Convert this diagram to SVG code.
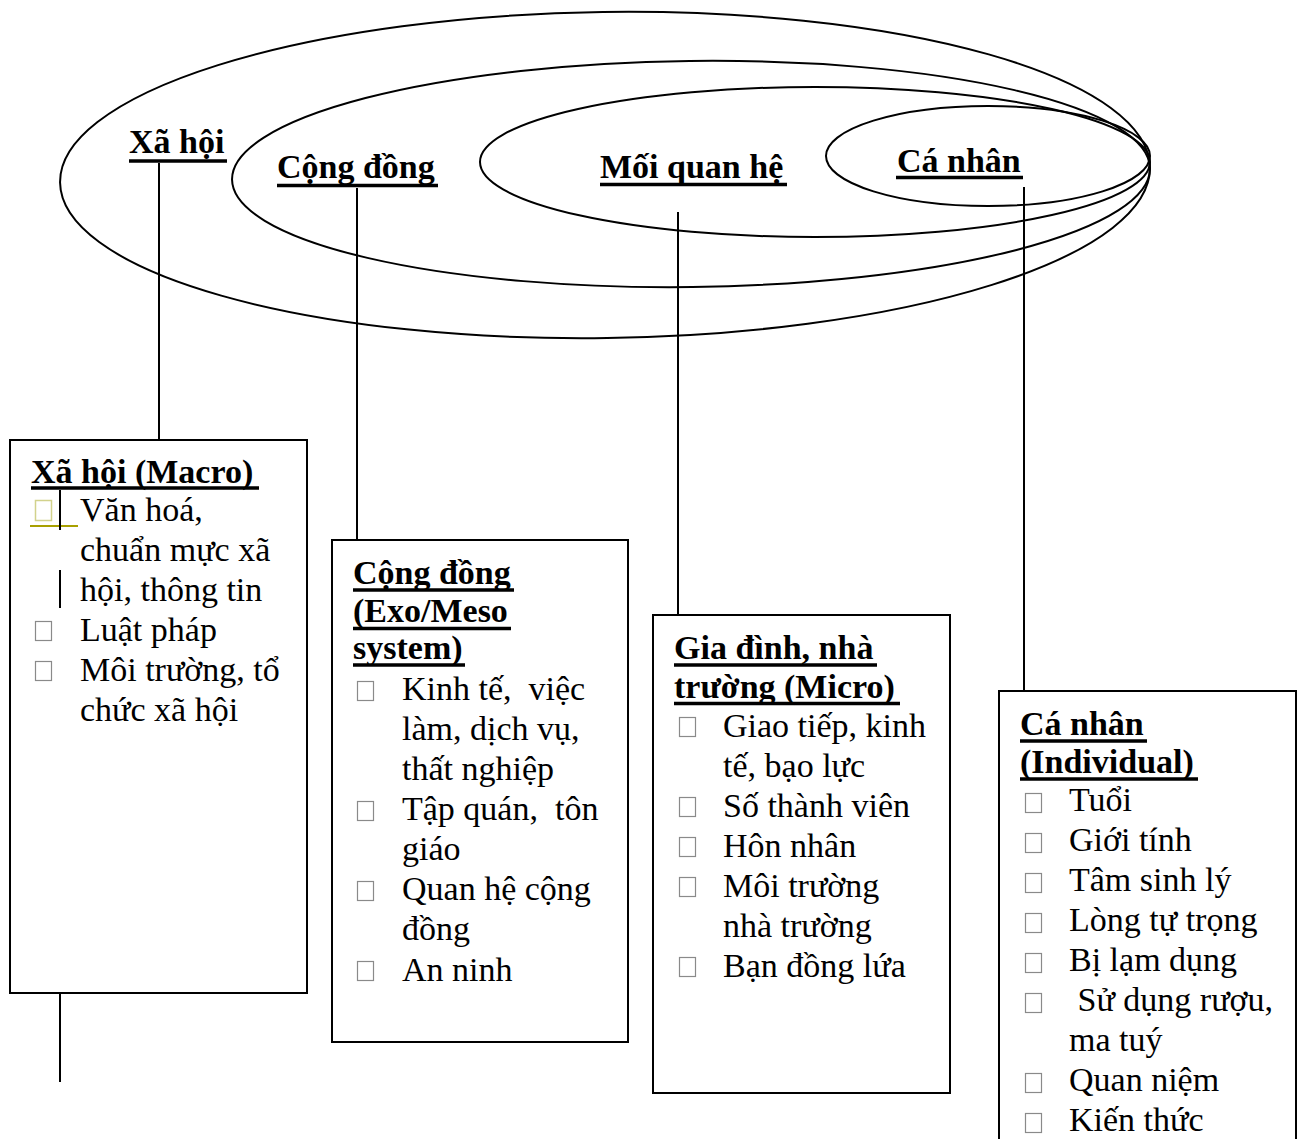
<svg xmlns="http://www.w3.org/2000/svg" width="1304" height="1139" viewBox="0 0 1304 1139">
<style>
  text { font-family: "Liberation Serif", "Times New Roman", serif; font-size: 34px; fill: #000; }
  .b { font-weight: bold; }
  .pre { white-space: pre; }
  .ell { fill: none; stroke: #000; stroke-width: 2; }
  .box { fill: #fff; stroke: #000; stroke-width: 2; }
  .ul { stroke: #000; stroke-width: 3.5; }
  .con { stroke: #000; stroke-width: 2; fill: none; }
  .blt { fill: none; stroke: #8a8a8a; stroke-width: 1.2; }
</style>
<rect width="1304" height="1139" fill="#fff"/>

<g id="ellipses">
  <ellipse class="ell" cx="605" cy="175" rx="545" ry="163" transform="rotate(-0.8 605 175)"/>
  <ellipse class="ell" cx="691" cy="174" rx="459" ry="113" transform="rotate(-0.7 691 174)"/>
  <ellipse class="ell" cx="815" cy="162" rx="335" ry="75"/>
  <ellipse class="ell" cx="988" cy="156" rx="162" ry="50"/>
</g>

<g id="connectors">
  <line class="con" x1="159" y1="163" x2="159" y2="440"/>
  <line class="con" x1="357" y1="188" x2="357" y2="540"/>
  <line class="con" x1="678" y1="212" x2="678" y2="615"/>
  <line class="con" x1="1024" y1="187" x2="1024" y2="691"/>
  <line class="con" x1="60" y1="993" x2="60" y2="1082"/>
</g>

<g id="label-xahoi">
  <text class="b" x="129" y="153">Xã hội</text>
  <line class="ul" x1="129" y1="161" x2="227" y2="161"/>
</g>
<g id="label-congdong">
  <text class="b" x="277" y="178">Cộng đồng</text>
  <line class="ul" x1="277" y1="185.5" x2="438" y2="185.5"/>
</g>
<g id="label-moiquanhe">
  <text class="b" x="600" y="178">Mối quan hệ</text>
  <line class="ul" x1="600" y1="184.5" x2="787" y2="184.5"/>
</g>
<g id="label-canhan">
  <text class="b" x="897" y="172">Cá nhân</text>
  <line class="ul" x1="896" y1="177.5" x2="1023" y2="177.5"/>
</g>

<g id="box-macro">
  <rect class="box" x="10" y="440" width="297" height="553"/>
  <text class="b" x="31" y="483">Xã hội (Macro)</text>
  <line class="ul" x1="31" y1="488" x2="259" y2="488"/>
  <rect x="35.5" y="500.5" width="16" height="20" fill="none" stroke="#d2d28c" stroke-width="1.5"/>
  <line x1="30" y1="526" x2="78" y2="526" stroke="#a8a000" stroke-width="2"/>
  <line x1="60" y1="490" x2="60" y2="530" stroke="#000" stroke-width="2"/>
  <line x1="60" y1="570" x2="60" y2="608" stroke="#000" stroke-width="2"/>
  <text x="80" y="521">Văn hoá,</text>
  <text x="80" y="561">chuẩn mực xã</text>
  <text x="80" y="601">hội, thông tin</text>
  <rect class="blt" x="35.5" y="621.5" width="16" height="19"/>
  <text x="80" y="641">Luật pháp</text>
  <rect class="blt" x="35.5" y="661.5" width="16" height="19"/>
  <text x="80" y="681">Môi trường, tổ</text>
  <text x="80" y="721">chức xã hội</text>
</g>

<g id="box-exo">
  <rect class="box" x="332" y="540" width="296" height="502"/>
  <text class="b" x="353" y="584">Cộng đồng</text>
  <line class="ul" x1="353" y1="590" x2="514" y2="590"/>
  <text class="b" x="353" y="622">(Exo/Meso</text>
  <line class="ul" x1="353" y1="628.5" x2="511" y2="628.5"/>
  <text class="b" x="353" y="659">system)</text>
  <line class="ul" x1="353" y1="665" x2="465" y2="665"/>
  <rect class="blt" x="357.5" y="681.5" width="16" height="19"/>
  <text class="pre" x="402" y="700">Kinh tế,  việc</text>
  <text x="402" y="740">làm, dịch vụ,</text>
  <text x="402" y="780">thất nghiệp</text>
  <rect class="blt" x="357.5" y="801.5" width="16" height="19"/>
  <text class="pre" x="402" y="820">Tập quán,  tôn</text>
  <text x="402" y="860">giáo</text>
  <rect class="blt" x="357.5" y="881.5" width="16" height="19"/>
  <text x="402" y="900">Quan hệ cộng</text>
  <text x="402" y="940">đồng</text>
  <rect class="blt" x="357.5" y="961.5" width="16" height="19"/>
  <text x="402" y="981">An ninh</text>
</g>

<g id="box-micro">
  <rect class="box" x="653" y="615" width="297" height="478"/>
  <text class="b" x="674" y="659">Gia đình, nhà</text>
  <line class="ul" x1="674" y1="665" x2="877" y2="665"/>
  <text class="b" x="674" y="698">trường (Micro)</text>
  <line class="ul" x1="674" y1="703.5" x2="900" y2="703.5"/>
  <rect class="blt" x="679.5" y="717.5" width="16" height="19"/>
  <text x="723" y="737">Giao tiếp, kinh</text>
  <text x="723" y="777">tế, bạo lực</text>
  <rect class="blt" x="679.5" y="797.5" width="16" height="19"/>
  <text x="723" y="817">Số thành viên</text>
  <rect class="blt" x="679.5" y="837.5" width="16" height="19"/>
  <text x="723" y="857">Hôn nhân</text>
  <rect class="blt" x="679.5" y="877.5" width="16" height="19"/>
  <text x="723" y="897">Môi trường</text>
  <text x="723" y="937">nhà trường</text>
  <rect class="blt" x="679.5" y="957.5" width="16" height="19"/>
  <text x="723" y="977">Bạn đồng lứa</text>
</g>

<g id="box-individual">
  <rect class="box" x="999" y="691" width="297" height="470"/>
  <text class="b" x="1020" y="735">Cá nhân</text>
  <line class="ul" x1="1020" y1="741" x2="1147" y2="741"/>
  <text class="b" x="1020" y="773">(Individual)</text>
  <line class="ul" x1="1020" y1="779" x2="1198" y2="779"/>
  <rect class="blt" x="1025.5" y="793.5" width="16" height="19"/>
  <text x="1069" y="811">Tuổi</text>
  <rect class="blt" x="1025.5" y="833.5" width="16" height="19"/>
  <text x="1069" y="851">Giới tính</text>
  <rect class="blt" x="1025.5" y="873.5" width="16" height="19"/>
  <text x="1069" y="891">Tâm sinh lý</text>
  <rect class="blt" x="1025.5" y="913.5" width="16" height="19"/>
  <text x="1069" y="931">Lòng tự trọng</text>
  <rect class="blt" x="1025.5" y="953.5" width="16" height="19"/>
  <text x="1069" y="971">Bị lạm dụng</text>
  <rect class="blt" x="1025.5" y="993.5" width="16" height="19"/>
  <text class="pre" x="1069" y="1011"> Sử dụng rượu,</text>
  <text x="1069" y="1051">ma tuý</text>
  <rect class="blt" x="1025.5" y="1073.5" width="16" height="19"/>
  <text x="1069" y="1091">Quan niệm</text>
  <rect class="blt" x="1025.5" y="1113.5" width="16" height="19"/>
  <text x="1069" y="1131">Kiến thức</text>
</g>
</svg>
